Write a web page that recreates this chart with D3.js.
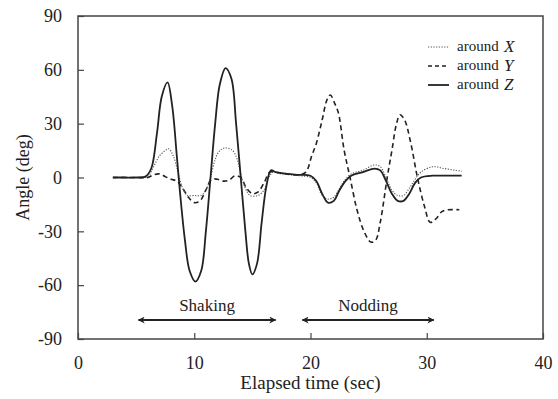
<!DOCTYPE html>
<html><head><meta charset="utf-8">
<script src="https://cdn.jsdelivr.net/npm/d3@7"></script>
<style>body{margin:0;background:#fff}svg{display:block}text{font-family:"Liberation Serif","Times New Roman",serif;fill:#222}</style>
</head><body><div id="c"></div>
<script>
const xTicks=[0,10,20,30,40];
const yTicks=[-90,-60,-30,0,30,60,90];
const seriesNames=["X","Y","Z"];
const xData=[[3,0],[5,0],[6,0.5],[6.5,6],[7,12],[7.5,15],[7.8,16],[8.2,12],[8.6,3],[9,-6],[9.4,-10],[10,-10],[10.6,-10],[11,-7],[11.4,0],[11.8,10],[12.2,15],[12.7,16.5],[13.3,15],[13.7,10],[14,2],[14.4,-6],[14.8,-10],[15.5,-10],[16,-7],[16.4,0],[16.8,3],[17.5,2],[19,1],[20,0],[20.5,-3],[21,-10],[21.5,-12],[22,-11],[22.5,-6],[23,-1],[23.5,2],[24.5,4],[25.5,7],[26,6],[26.5,0],[27,-7],[27.5,-10],[28,-10],[28.5,-6],[29,-1],[29.5,3],[30.5,6],[31.5,5],[32.5,4],[33,3.5]];
const yData=[[3,0],[5,0],[6,0],[6.5,1.5],[7,2],[7.5,0.5],[8,-1],[8.5,-2],[9,-6],[9.5,-11],[10,-14],[10.5,-13],[11,-7],[11.5,-1],[12,-1],[12.5,-2],[13,-1.5],[13.5,1],[14,0],[14.5,-6],[15,-9],[15.5,-8],[16,-3],[16.5,3],[17,3],[18,2],[19,1.5],[19.6,3],[20.1,12],[20.5,19],[21,32],[21.4,43],[21.7,46],[22.1,41],[22.4,36],[22.9,15],[23.4,0],[24,-18],[24.6,-30],[25.2,-36],[25.6,-35],[26,-25],[26.6,0],[27,15],[27.4,30],[27.7,35],[28.1,32],[28.6,20],[29.2,0],[29.8,-16],[30.3,-25],[30.8,-23],[31.3,-19],[31.8,-18],[32.8,-18]];
const zData=[[3,0],[4,0],[5,0],[5.8,0.5],[6.3,5],[6.8,25],[7.2,45],[7.7,53],[8.1,40],[8.5,12],[8.8,-10],[9.2,-35],[9.6,-52],[10.1,-58],[10.6,-52],[11,-30],[11.4,0],[11.8,30],[12.2,52],[12.7,61],[13.2,55],[13.6,30],[14,0],[14.4,-30],[14.7,-48],[15,-54],[15.4,-48],[15.8,-25],[16.2,-5],[16.6,4],[17,3],[18,2],[19,1.5],[20,1],[20.5,-2],[21,-9],[21.5,-14],[22,-13],[22.5,-7],[23,-2],[23.5,1],[24.5,3],[25.5,5],[26,4],[26.5,-2],[27,-9],[27.5,-13],[28,-13],[28.5,-9],[29,-3],[29.5,0],[30.5,1],[31.5,1],[33,1]];
const phases=[{label:"Shaking",from:5.2,to:17},{label:"Nodding",from:19.3,to:30.6}];

const W=558,H=399,m={l:78,r:15,t:16,b:60};
const svg=d3.select("#c").append("svg").attr("width",W).attr("height",H);
const x=d3.scaleLinear().domain([0,40]).range([m.l,W-m.r]);
const y=d3.scaleLinear().domain([-90,90]).range([H-m.b,m.t]);
const defs=svg.append("defs");
defs.append("marker").attr("id","ah").attr("viewBox","0 0 10 10").attr("refX",9).attr("refY",5)
 .attr("markerWidth",9).attr("markerHeight",7).attr("orient","auto-start-reverse").attr("markerUnits","userSpaceOnUse")
 .append("path").attr("d","M0,0 L10,5 L0,10 L3,5 Z").attr("fill","#222");

svg.append("rect").attr("x",x(0)).attr("y",y(90)).attr("width",x(40)-x(0)).attr("height",y(-90)-y(90))
 .attr("fill","none").attr("stroke","#444").attr("stroke-width",1.5);
const fmt=d=>String(d);
const xa=svg.append("g").attr("transform",`translate(0,${y(-90)})`)
 .call(d3.axisBottom(x).tickValues(xTicks).tickFormat(fmt).tickSize(-6).tickPadding(17));
const ya=svg.append("g").attr("transform",`translate(${x(0)},0)`)
 .call(d3.axisLeft(y).tickValues(yTicks).tickFormat(fmt).tickSize(-6).tickPadding(16));
[xa,ya].forEach(g=>{g.select(".domain").remove();g.selectAll("line").attr("stroke","#444").attr("stroke-width",1.2);
 g.selectAll("text").attr("font-size",18).attr("fill","#222");});

svg.append("text").attr("x",x(20)).attr("y",389).attr("text-anchor","middle").attr("font-size",19).text("Elapsed time (sec)");
svg.append("text").attr("transform",`translate(29,${y(0)}) rotate(-90)`).attr("text-anchor","middle").attr("font-size",18).text("Angle (deg)");

const line=d3.line().x(d=>x(d[0])).y(d=>y(d[1])).curve(d3.curveCatmullRom.alpha(0.5));
const styles={X:{d:"1.2,1.5",w:1.1,c:"#555"},Y:{d:"5,3.5",w:1.6,c:"#222"},Z:{d:null,w:1.8,c:"#222"}};
const data={X:xData,Y:yData,Z:zData};
["Y","X","Z"].forEach(k=>{
 svg.append("path").attr("d",line(data[k])).attr("fill","none").attr("stroke",styles[k].c)
  .attr("stroke-width",styles[k].w).attr("stroke-dasharray",styles[k].d);
});

const ly=[47,66,85];
seriesNames.forEach((k,i)=>{
 svg.append("line").attr("x1",428).attr("x2",449).attr("y1",ly[i]).attr("y2",ly[i]).attr("stroke",styles[k].c)
  .attr("stroke-width",styles[k].w).attr("stroke-dasharray",k==="Y"?"4,3":styles[k].d);
 svg.append("text").attr("x",457).attr("y",ly[i]+4).attr("font-size",15).text("around");
 svg.append("text").attr("x",504).attr("y",ly[i]+5).attr("font-style","italic").attr("font-size",17).text(k);
});

phases.forEach(p=>{
 svg.append("line").attr("x1",x(p.from)).attr("x2",x(p.to)).attr("y1",320).attr("y2",320)
  .attr("stroke","#222").attr("stroke-width",1.8).attr("marker-start","url(#ah)").attr("marker-end","url(#ah)");
 svg.append("text").attr("x",(x(p.from)+x(p.to))/2).attr("y",311).attr("text-anchor","middle").attr("font-size",17).text(p.label);
});
</script></body></html>
